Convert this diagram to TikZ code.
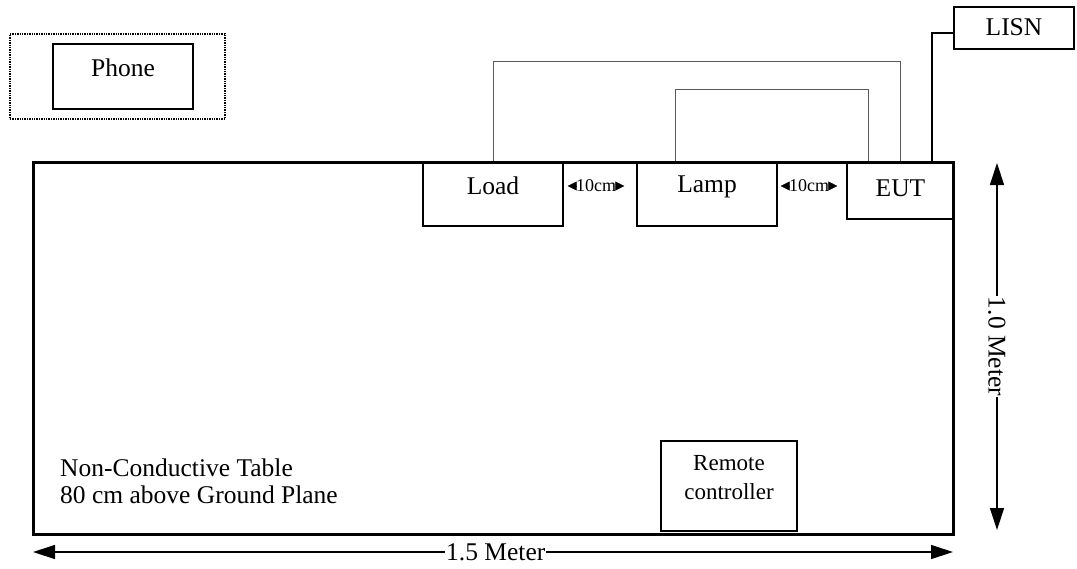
\documentclass[tikz,border=0pt]{standalone}
\usepackage{fontspec}
\setmainfont{Liberation Serif}
\usetikzlibrary{arrows.meta}
\begin{document}
\begin{tikzpicture}[x=1pt,y=-1pt,
  box/.style={draw, line width=1.3pt, inner sep=0pt},
  lbl/.style={inner sep=0pt, font=\fontsize{25.5}{27}\selectfont},
  small/.style={inner sep=0pt, font=\fontsize{18}{20}\selectfont},
  wire/.style={draw=black!65, line width=1pt},
  power/.style={line width=2.6pt},
  dim/.style={line width=1.3pt, {Triangle[length=22pt,width=14pt]}-{Triangle[length=22pt,width=14pt]}},
  gap/.style={line width=0.6pt, -{Triangle[length=9pt,width=9pt]}}]
\useasboundingbox (0,0) rectangle (1077,568);
% phone
\node[draw, densely dotted, line width=1.4pt, minimum width=215pt, minimum height=85pt, inner sep=0pt] (zone) at (117.5,76.5) {};
\node[box, minimum width=140pt, minimum height=65pt] (phone) at (123,76.5) {};
\node[lbl] (phonet) at (123,68) {Phone};
% boxes on table
\node[box, minimum width=140pt, minimum height=64pt] (load) at (493,194) {};
\node[lbl] (loadt) at (493,186) {Load};
\node[box, minimum width=140pt, minimum height=64pt] (lamp) at (707,194) {};
\node[lbl] (lampt) at (707,187) {Lamp};
\node[box, minimum width=107pt, minimum height=57pt] (eut) at (900.5,190.5) {};
\node[lbl] (eutt) at (900.5,188) {EUT};
\node[box, minimum width=120pt, minimum height=42pt] (lisn) at (1014,28) {};
\node[lbl] (lisnt) at (1014,27) {LISN};
\node[box, minimum width=136pt, minimum height=90pt] (remote) at (729,486) {};
\node[lbl, align=center, font=\fontsize{23}{29}\selectfont] (remotet) at (729,478) {Remote\\controller};
% table
\node[draw, line width=3pt, minimum width=920pt, minimum height=372pt, inner sep=0pt] (table) at (493,348) {};
% table caption
\node[lbl, align=left, anchor=west] (caption) at (60,481) {Non-Conductive Table\\80 cm above Ground Plane};
% wires
\draw[wire] (load.north) -- ++(0,-100) -| (eut.north);
\draw[wire] ([xshift=-32pt]lamp.north) -- ++(0,-72) -| ([xshift=-32.5pt]eut.north);
\draw[power] ([xshift=31.5pt]eut.north) |- ([yshift=-5pt]lisn.west);
% 10 cm gaps
\node[small] (g1) at (596,186) {10cm};
\draw[gap, shorten >=4pt] (g1.west) -- (load.east |- g1.west);
\draw[gap, shorten >=12pt] (g1.east) -- (lamp.west |- g1.east);
\node[small] (g2) at (809,186) {10cm};
\draw[gap, shorten >=3pt] (g2.west) -- (lamp.east |- g2.west);
\draw[gap, shorten >=9pt] (g2.east) -- (eut.west |- g2.east);
% dimensions
\coordinate (bl) at (33,552);
\coordinate (br) at (953,552);
\draw[dim] (bl) -- (br) node[lbl, pos=0.503, fill=white, inner xsep=1pt] (w) {1.5 Meter};
\coordinate (rt) at (997,163);
\coordinate (rb) at (997,530);
\draw[dim] (rt) -- (rb) node[lbl, midway, fill=white, rotate=-90, inner xsep=1pt] (h) {1.0 Meter};
\end{tikzpicture}
\end{document}
